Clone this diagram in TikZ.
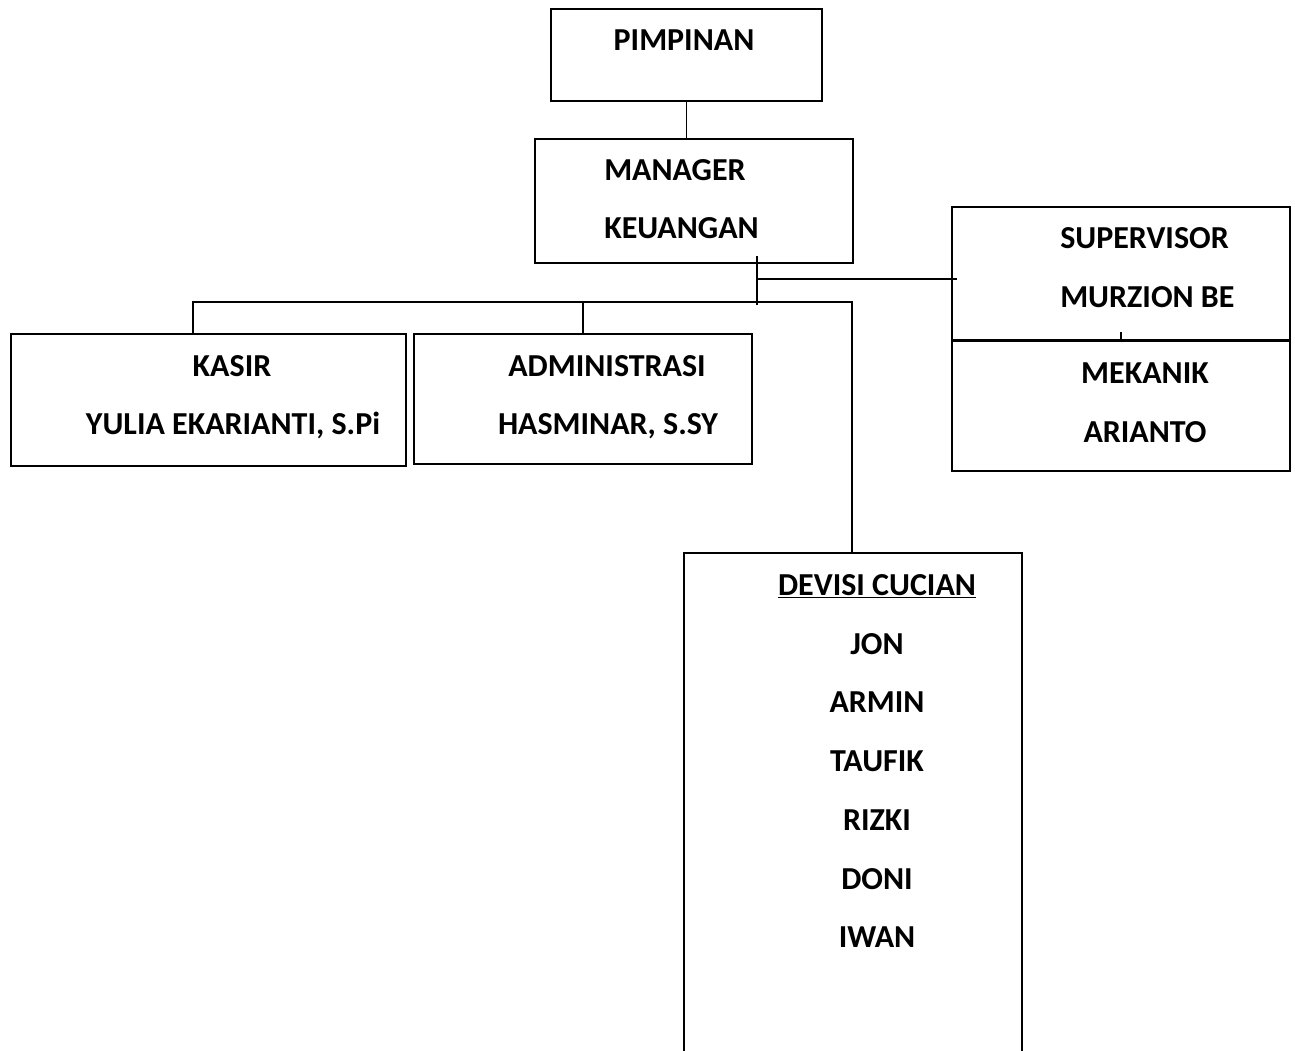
\documentclass[tikz,border=0pt]{standalone}
\usepackage{fontspec}
\setmainfont{Carlito}
\usetikzlibrary{fit}

\tikzset{
  box/.style={draw, line width=1.2pt, inner sep=0pt, rectangle},
  txt/.style={anchor=base, inner sep=0pt, font=\bfseries\fontsize{24}{28}\selectfont}
}

\begin{document}
\begin{tikzpicture}[x=0.75pt, y=-0.75pt]
        \useasboundingbox (0,0) rectangle (1295,1050);
        \clip (0,0) rectangle (1295,1050);
        % boxes
        \node[box, fit={(551,9) (822,101)}] (pimpinan) {};
        \node[box, fit={(535,139) (853,263)}] (manager) {};
        \node[box, fit={(11,334) (406,466)}] (kasir) {};
        \node[box, fit={(414,334) (752,464)}] (admin) {};
        \node[box, fit={(952,207) (1290,341)}] (supervisor) {};
        \node[box, fit={(952,341) (1290,471)}] (mekanik) {};
        \node[box, line width=1.6pt, fit={(684,553) (1022,1070)}] (devisi) {};
        \draw[line width=2pt] (mekanik.north west) -- (mekanik.north east);
        \draw[line width=0.8pt] ([yshift=6pt]mekanik.north) -- (mekanik.north);
        % texts
        \node[txt] (tpimpinan) at (684,50.5) {PIMPINAN};
        \node[txt, anchor=base west] (tmanager) at (604,180.5) {MANAGER};
        \node[txt, anchor=base west] (tkeuangan) at (604,238.5) {KEUANGAN};
        \node[txt, anchor=base west] (tsupervisor) at (1060,248.5) {SUPERVISOR};
        \node[txt, anchor=base west] (tmurzion) at (1060,307.5) {MURZION BE};
        \node[txt] (tmekanik) at (1145,383.5) {MEKANIK};
        \node[txt] (tarianto) at (1145,442.5) {ARIANTO};
        \node[txt] (tkasir) at (232,376.5) {KASIR};
        \node[txt] (tyulia) at (233,434.5) {YULIA EKARIANTI, S.Pi};
        \node[txt] (tadmin) at (607,376.5) {ADMINISTRASI};
        \node[txt] (thasminar) at (608,434.5) {HASMINAR, S.SY};
        \node[txt] (tdevisi) at (877,595.5) {\underline{DEVISI CUCIAN}};
        \node[txt] (tjon) at (877,654.5) {JON};
        \node[txt] (tarmin) at (877,712.5) {ARMIN};
        \node[txt] (ttaufik) at (877,771.5) {TAUFIK};
        \node[txt] (trizki) at (877,830.5) {RIZKI};
        \node[txt] (tdoni) at (877,889.5) {DONI};
        \node[txt] (tiwan) at (877,947.5) {IWAN};
        % connectors
        \coordinate (jtop) at (757,256);
        \coordinate (jmid) at (757,279);
        \coordinate (jbot) at (757,305);
        \coordinate (sv) at (957,279);
        \coordinate (busl) at (193,302);
        \coordinate (busr) at (852,302);
        \draw[line width=1.3pt] (pimpinan.south) -- (pimpinan.south |- manager.north);
        \draw[line width=1.3pt] (jtop) -- (jbot);
        \draw[line width=1.3pt] (jmid) -- (sv);
        \draw[line width=1.3pt] (busl |- kasir.north) -- (busl) -- (busr) -- (busr |- devisi.north);
        \draw[line width=1.3pt] (admin.north) -- (admin.north |- busl);
\end{tikzpicture}
\end{document}
